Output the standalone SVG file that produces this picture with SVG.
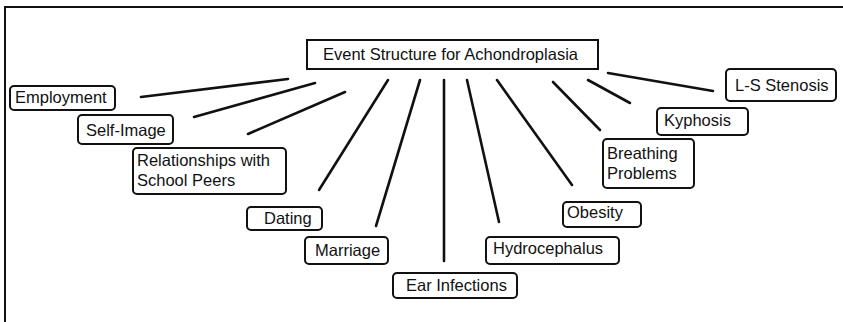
<svg xmlns="http://www.w3.org/2000/svg" width="843" height="322" viewBox="0 0 843 322">
<style>
text{font-family:"Liberation Sans",Arial,sans-serif;font-size:16.5px;fill:#111}
.box{fill:#fff;stroke:#111;stroke-width:2}
.edge{stroke:#111;stroke-width:2.6;stroke-linecap:round;fill:none}
.frame{stroke:#111;stroke-width:2;fill:none}
</style>
<rect width="843" height="322" fill="#fff"/>
<path class="frame" d="M5,322 V7 H843"/>
<g id="connectors">
<line class="edge" x1="141" y1="97" x2="288" y2="79"/>
<line class="edge" x1="194" y1="117" x2="315" y2="83"/>
<line class="edge" x1="248" y1="134" x2="345" y2="92"/>
<line class="edge" x1="319" y1="190" x2="388" y2="80"/>
<line class="edge" x1="376" y1="226" x2="420" y2="80"/>
<line class="edge" x1="444" y1="261" x2="444" y2="80"/>
<line class="edge" x1="499" y1="222" x2="467" y2="80"/>
<line class="edge" x1="572" y1="185" x2="497" y2="80"/>
<line class="edge" x1="600" y1="130" x2="553" y2="82"/>
<line class="edge" x1="630" y1="103" x2="588" y2="80"/>
<line class="edge" x1="713" y1="91" x2="608" y2="73"/>
</g>
<g id="title"><rect class="box" x="307" y="40" width="291" height="29"/><text x="323" y="60">Event Structure for Achondroplasia</text></g>
<g id="employment"><rect class="box" x="10" y="86" width="105" height="24" rx="4"/><text x="15" y="103">Employment</text></g>
<g id="self-image"><rect class="box" x="78" y="115" width="95" height="29" rx="4"/><text x="86" y="136">Self-Image</text></g>
<g id="relationships"><rect class="box" x="133" y="148" width="153" height="46" rx="4"/><text x="137" y="166">Relationships with</text><text x="137" y="186">School Peers</text></g>
<g id="dating"><rect class="box" x="247" y="207" width="75" height="23" rx="4"/><text x="264" y="224">Dating</text></g>
<g id="marriage"><rect class="box" x="305" y="237" width="83" height="27" rx="4"/><text x="315" y="256">Marriage</text></g>
<g id="ear-infections"><rect class="box" x="393" y="273" width="124" height="25" rx="4"/><text x="406" y="291">Ear Infections</text></g>
<g id="hydrocephalus"><rect class="box" x="486" y="237" width="133" height="27" rx="4"/><text x="493" y="254">Hydrocephalus</text></g>
<g id="obesity"><rect class="box" x="563" y="202" width="78" height="25" rx="4"/><text x="567" y="218">Obesity</text></g>
<g id="breathing"><rect class="box" x="603" y="139" width="91" height="49" rx="4"/><text x="607" y="159">Breathing</text><text x="607" y="179">Problems</text></g>
<g id="kyphosis"><rect class="box" x="657" y="108" width="91" height="27" rx="4"/><text x="664" y="126">Kyphosis</text></g>
<g id="ls-stenosis"><rect class="box" x="726" y="69" width="110" height="32" rx="4"/><text x="735" y="91">L-S Stenosis</text></g>
</svg>
